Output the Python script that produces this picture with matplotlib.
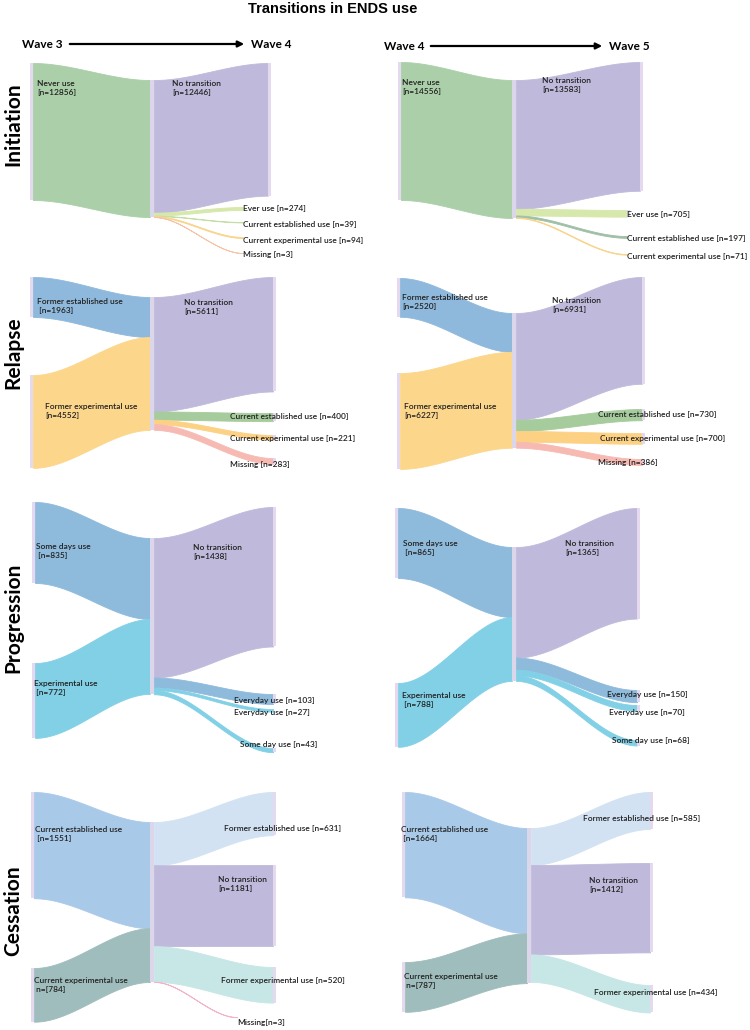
import numpy as np
import matplotlib
matplotlib.use("Agg")
import matplotlib.pyplot as plt
from matplotlib.patches import Rectangle

plt.rcParams['font.family'] = ['Lato', 'DejaVu Sans']

# ---- data: counts per node, source (wave t) and target (wave t+1) ----
init34_src = ["Never use\n[n=12856]"]
init34_src_n = [12856]
init34_tgt = ["No transition\n[n=12446]", "Ever use [n=274]", "Current established use [n=39]",
              "Current experimental use [n=94]", "Missing [n=3]"]
init34_tgt_n = [12446, 274, 39, 94, 3]

init45_src = ["Never use\n[n=14556]"]
init45_src_n = [14556]
init45_tgt = ["No transition\n[n=13583]", "Ever use [n=705]", "Current established use [n=197]",
              "Current experimental use [n=71]"]
init45_tgt_n = [13583, 705, 197, 71]

rel34_src = ["Former established use\n [n=1963]", "Former experimental use\n[n=4552]"]
rel34_src_n = [1963, 4552]
rel34_tgt = ["No transition\n[n=5611]", "Current established use [n=400]",
             "Current experimental use [n=221]", "Missing [n=283]"]
rel34_tgt_n = [5611, 400, 221, 283]

rel45_src = ["Former established use\n[n=2520]", "Former experimental use\n[n=6227]"]
rel45_src_n = [2520, 6227]
rel45_tgt = ["No transition\n[n=6931]", "Current established use [n=730]",
             "Current experimental use [n=700]", "Missing [n=386]"]
rel45_tgt_n = [6931, 730, 700, 386]

prog34_src = ["Some days use\n [n=835]", "Experimental use\n [n=772]"]
prog34_src_n = [835, 772]
prog34_tgt = ["No transition\n[n=1438]", "Everyday use [n=103]", "Everyday use [n=27]", "Some day use [n=43]"]
prog34_tgt_n = [1438, 103, 27, 43]

prog45_src = ["Some days use\n [n=865]", "Experimental use\n [n=788]"]
prog45_src_n = [865, 788]
prog45_tgt = ["No transition\n[n=1365]", "Everyday use [n=150]", "Everyday use [n=70]", "Some day use [n=68]"]
prog45_tgt_n = [1365, 150, 70, 68]

cess34_src = ["Current established use\n [n=1551]", "Current experimental use\n n=[784]"]
cess34_src_n = [1551, 784]
cess34_tgt = ["Former established use [n=631]", "No transition\n[n=1181]",
              "Former experimental use [n=520]", "Missing[n=3]"]
cess34_tgt_n = [631, 1181, 520, 3]

cess45_src = ["Current established use\n [n=1664]", "Current experimental use\n n=[787]"]
cess45_src_n = [1664, 787]
cess45_tgt = ["Former established use [n=585]", "No transition\n[n=1412]", "Former experimental use [n=434]"]
cess45_tgt_n = [585, 1412, 434]

row_names = ["Initiation", "Relapse", "Progression", "Cessation"]

# ---- colours ----
NODE = "#e4d9ee"
MID = "#dcd6ea"
PURPLE = "#bfbadb"
GREEN = "#abcfa8"
init34_src_c = [GREEN]
init34_tgt_c = [PURPLE, "#d6e8ab", "#c3dda2", "#f9d48c", "#f5c3a8"]
init45_src_c = [GREEN]
init45_tgt_c = [PURPLE, "#d6e8ab", "#9fc0a6", "#f9d48c"]
rel_src_c = ["#8fb9dc", "#fcd68b"]
rel_tgt_c = [PURPLE, "#a6cb9c", "#fcd184", "#f7bab3"]
prog_src_c = ["#8ebadc", "#82d0e6"]
prog_tgt_c = [PURPLE, "#8ebadc", "#82d0e6", "#82d0e6"]
cess_src_c = ["#a9c9e9", "#9fbdbc"]
cess_tgt_c = ["#d2e2f3", PURPLE, "#c7e6e6", "#f2b3c8"]

LABEL = dict(fontsize=6.0, fontweight="semibold", color="#222222", ha="left", linespacing=1.35)


def band(ax, x0, x1, top0, bot0, top1, bot1, color):
    s = np.linspace(0, 1, 80)
    t = 3 * s ** 2 - 2 * s ** 3
    x = x0 + (x1 - x0) * s
    ax.fill_between(x, top0 + (top1 - top0) * t, bot0 + (bot1 - bot0) * t,
                    color=color, lw=0.6, edgecolor=color)


def draw_panel(ax, src, src_n, src_c, tgt, tgt_n, tgt_c, lay):
    xl, xc, scale, src_tops, ctop, tgt_tops, tgt_ends, src_lab, tgt_lab = lay
    yc = ctop
    for lab, n, c, top, lp in zip(src, src_n, src_c, src_tops, src_lab):
        h = n * scale
        ax.add_patch(Rectangle((xl, top), 3, h, color=NODE, lw=0))
        band(ax, xl + 3, xc, top, top + h, yc, yc + h, c)
        ax.text(lp[0], lp[1], lab, va="top", **LABEL)
        yc += h
    left_h = yc - ctop
    yc = ctop
    for lab, n, c, top, xe, lp in zip(tgt, tgt_n, tgt_c, tgt_tops, tgt_ends, tgt_lab):
        h = n * scale
        band(ax, xc + 4, xe, yc, yc + h, top, top + h, c)
        if h > 3:
            ax.add_patch(Rectangle((xe, top), 3, h, color=NODE, lw=0))
        va = "top" if "\n" in lab else "center"
        ax.text(lp[0], lp[1], lab, va=va, **LABEL)
        yc += h
    ax.add_patch(Rectangle((xc, ctop), 4, max(left_h, yc - ctop), color=MID, lw=0))


fig = plt.figure(figsize=(7.5, 10.3), dpi=100)
ax = fig.add_axes([0, 0, 1, 1])
ax.set_xlim(0, 750)
ax.set_ylim(1030, 0)
ax.axis("off")

# layout: left x, centre x, px per count, source tops, centre top, target tops, target end x, label anchors
lay_init34 = (30, 150, 0.01066, [63], 80, [63, 207, 222, 237, 253], [268, 243, 243, 243, 243],
              [(37, 80)], [(172, 80), (243, 209), (243, 224), (243, 240), (243, 254)])
lay_init45 = (398, 512, 0.00948, [62], 80, [62, 210, 236, 254], [640, 627, 627, 627],
              [(402, 79)], [(542, 77), (627, 214), (627, 239), (627, 256)])
lay_rel34 = (30, 150, 0.0204, [277, 375], 297, [277, 413, 435, 458], [273, 273, 273, 273],
             [(37, 298), (45, 403)], [(184, 299), (230, 417), (230, 438), (230, 464)])
lay_rel45 = (397, 512, 0.0154, [278, 373], 313, [277, 409, 433, 459], [642, 642, 642, 642],
             [(402, 294), (404, 403)], [(552, 297), (598, 415), (600, 438), (598, 462)])
lay_prog34 = (32, 150, 0.097, [502, 663], 538, [507, 694, 709, 748], [273, 273, 273, 273],
              [(36, 543), (34, 680)], [(193, 544), (234, 700), (234, 712), (240, 745)])
lay_prog45 = (395, 512, 0.081, [508, 683], 547, [508, 690, 705, 740], [637, 637, 637, 637],
              [(403, 540), (402, 692)], [(565, 540), (607, 694), (609, 712), (612, 740)])
lay_cess34 = (31, 150, 0.0685, [792, 968], 822, [792, 865, 967, 1017], [273, 273, 273, 237],
              [(35, 826), (34, 977)], [(224, 829), (218, 876), (221, 981), (237, 1022)])
lay_cess45 = (402, 527, 0.0633, [792, 962], 828, [792, 863, 985], [650, 650, 650],
              [(401, 826), (404, 973)], [(583, 819), (589, 877), (594, 993)])

draw_panel(ax, init34_src, init34_src_n, init34_src_c, init34_tgt, init34_tgt_n, init34_tgt_c, lay_init34)
draw_panel(ax, init45_src, init45_src_n, init45_src_c, init45_tgt, init45_tgt_n, init45_tgt_c, lay_init45)
draw_panel(ax, rel34_src, rel34_src_n, rel_src_c, rel34_tgt, rel34_tgt_n, rel_tgt_c, lay_rel34)
draw_panel(ax, rel45_src, rel45_src_n, rel_src_c, rel45_tgt, rel45_tgt_n, rel_tgt_c, lay_rel45)
draw_panel(ax, prog34_src, prog34_src_n, prog_src_c, prog34_tgt, prog34_tgt_n, prog_tgt_c, lay_prog34)
draw_panel(ax, prog45_src, prog45_src_n, prog_src_c, prog45_tgt, prog45_tgt_n, prog_tgt_c, lay_prog45)
draw_panel(ax, cess34_src, cess34_src_n, cess_src_c, cess34_tgt, cess34_tgt_n, cess_tgt_c, lay_cess34)
draw_panel(ax, cess45_src, cess45_src_n, cess_src_c, cess45_tgt, cess45_tgt_n, cess_tgt_c, lay_cess45)

# titles and headers
ax.text(333, 9, "Transitions in ENDS use", fontsize=10.5, fontweight="bold",
        family=["Liberation Sans", "DejaVu Sans"], ha="center", va="center")
for name, y in zip(row_names, [124, 353, 618, 911]):
    ax.text(13, y, name, fontsize=15, fontweight="bold", rotation=90, ha="center", va="center")

for w0, w1, xa, xb, y in [("Wave 3", "Wave 4", 67, 247, 44), ("Wave 4", "Wave 5", 428, 605, 46)]:
    ax.text(xa - 4, y + 1, w0, fontsize=8.5, fontweight="bold", ha="right", va="center")
    ax.text(xb + 4, y, w1, fontsize=8.5, fontweight="bold", ha="left", va="center")
    ax.annotate("", xy=(xb, y), xytext=(xa, y),
                arrowprops=dict(arrowstyle="-|>", color="black", lw=1.6, mutation_scale=9))

fig.savefig("out.png", dpi=100)
